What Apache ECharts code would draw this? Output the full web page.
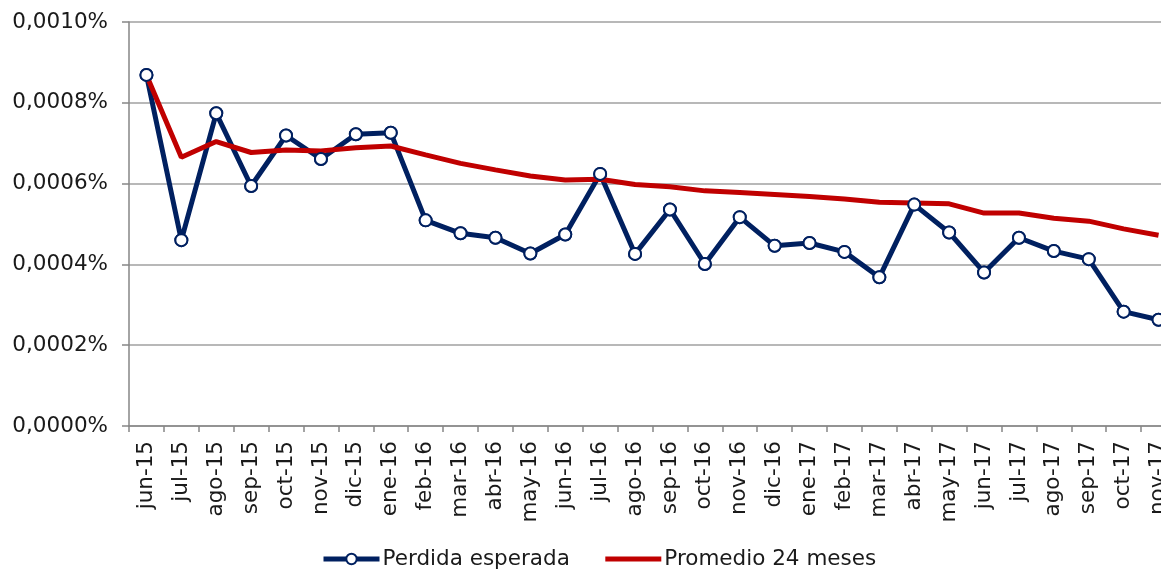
<!DOCTYPE html>
<html>
<head>
<meta charset="utf-8">
<script src="https://cdn.jsdelivr.net/npm/echarts@6/dist/echarts.min.js"></script>
<style>html,body{margin:0;padding:0;background:#fff;}#c{width:1161px;height:571px;}</style>
</head>
<body>
<div id="c"></div>
<script>
const categories = ['jun-15','jul-15','ago-15','sep-15','oct-15','nov-15','dic-15','ene-16','feb-16','mar-16','abr-16','may-16','jun-16','jul-16','ago-16','sep-16','oct-16','nov-16','dic-16','ene-17','feb-17','mar-17','abr-17','may-17','jun-17','jul-17','ago-17','sep-17','oct-17','nov-17'];
const perdidaEsperada = [0.000869,0.000460,0.000774,0.000594,0.000719,0.000661,0.000722,0.000726,0.000509,0.000477,0.000466,0.000427,0.000474,0.000624,0.000426,0.000536,0.000401,0.000517,0.000446,0.000453,0.000431,0.000368,0.000548,0.000479,0.000380,0.000466,0.000433,0.000413,0.000283,0.000263];
const promedio24 = [0.000869,0.000665,0.000704,0.000677,0.000683,0.000681,0.000689,0.000693,0.000671,0.000650,0.000634,0.000619,0.000609,0.000611,0.000598,0.000592,0.000582,0.000578,0.000573,0.000568,0.000562,0.000554,0.000552,0.000550,0.000527,0.000527,0.000514,0.000507,0.000488,0.000472];
const yTicks = {min: 0, max: 0.001, interval: 0.0002};

const chart = echarts.init(document.getElementById('c'), null, {renderer: 'canvas'});
const font = 'DejaVu Sans, Verdana, sans-serif';
chart.setOption({
  animation: false,
  textStyle: {fontFamily: font},
  grid: {left: 129, right: -15, top: 22, bottom: 145, containLabel: false, outerBoundsMode: 'none'},
  legend: {
    left: 316, top: 543,
    itemWidth: 56, itemHeight: 13, itemGap: 33,
    textStyle: {fontSize: 21.5, color: '#1a1a1a', fontFamily: font, padding: [0, 0, 0, -2]},
    data: [
      {name: 'Perdida esperada', lineStyle: {width: 5, color: '#002060'},
       itemStyle: {color: '#ffffff', borderColor: '#002060', borderWidth: 2}},
      {name: 'Promedio 24 meses', lineStyle: {width: 5, color: '#c00000'},
       itemStyle: {opacity: 0}}
    ]
  },
  xAxis: {
    type: 'category',
    data: categories,
    boundaryGap: true,
    axisLine: {lineStyle: {color: '#868686', width: 1.5}},
    axisTick: {show: true, length: 6, lineStyle: {color: '#868686', width: 1.5}},
    axisLabel: {rotate: 90, fontSize: 21.5, color: '#1a1a1a', margin: 15, interval: 0, fontFamily: font}
  },
  yAxis: {
    type: 'value',
    min: yTicks.min, max: yTicks.max, interval: yTicks.interval,
    axisLine: {show: true, lineStyle: {color: '#868686', width: 1.5}},
    axisTick: {show: true, length: 7, lineStyle: {color: '#868686', width: 1.5}},
    splitLine: {lineStyle: {color: '#a0a0a0', width: 1.5}},
    axisLabel: {
      fontSize: 21.5, color: '#1a1a1a', margin: 21, fontFamily: font,
      formatter: v => v.toFixed(4).replace('.', ',') + '%'
    }
  },
  series: [
    {
      name: 'Perdida esperada', type: 'line', data: perdidaEsperada, z: 2,
      symbol: 'circle', symbolSize: 12, showSymbol: true,
      lineStyle: {color: '#002060', width: 5},
      itemStyle: {color: '#ffffff', borderColor: '#002060', borderWidth: 2}
    },
    {
      name: 'Promedio 24 meses', type: 'line', data: promedio24, z: 3,
      symbol: 'none',
      lineStyle: {color: '#c00000', width: 5},
      itemStyle: {color: '#c00000'}
    },
    {
      name: 'markers', type: 'line', data: perdidaEsperada, z: 4,
      symbol: 'circle', symbolSize: 12,
      lineStyle: {opacity: 0, width: 0},
      itemStyle: {color: '#ffffff', borderColor: '#002060', borderWidth: 2},
      silent: true
    }
  ]
});
</script>
</body>
</html>
